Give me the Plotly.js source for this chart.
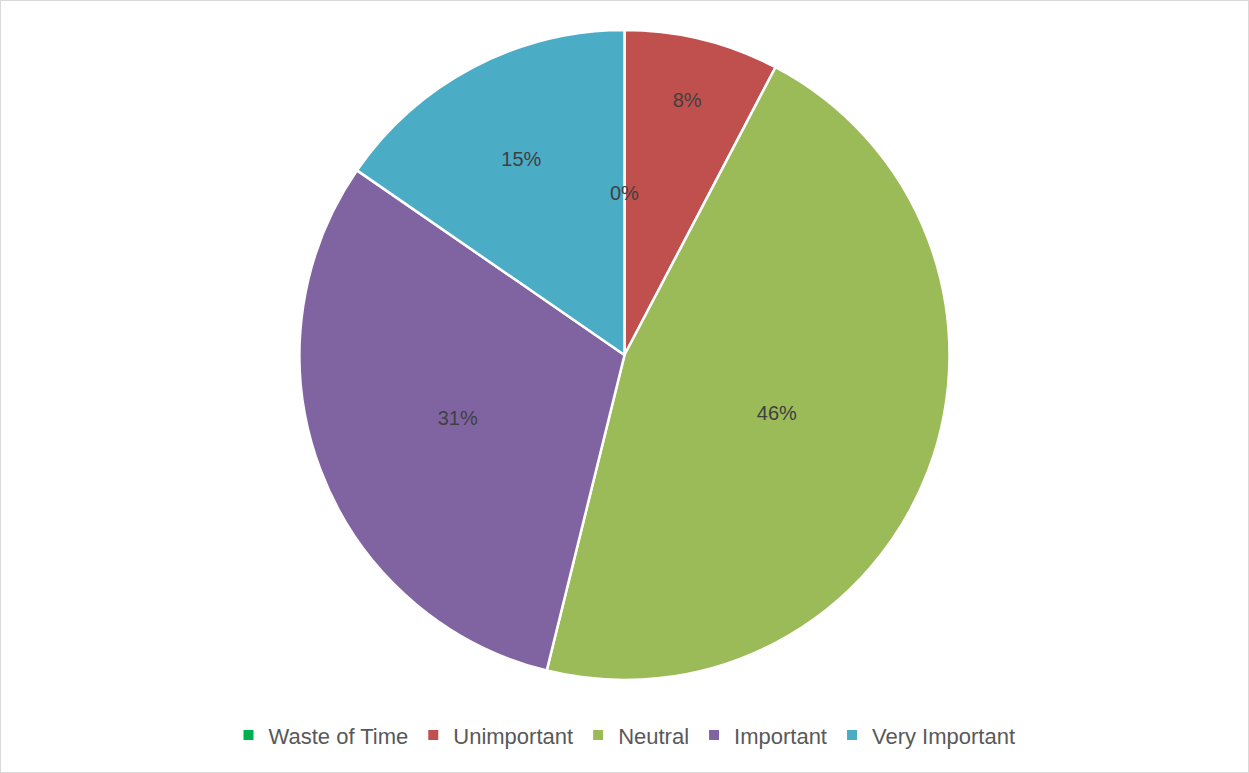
<!DOCTYPE html>
<html>
<head>
<meta charset="utf-8">
<script src="https://cdn.plot.ly/plotly-3.0.1.min.js"></script>
<style>
html,body{margin:0;padding:0;background:#fff;}
#chart{width:1249px;height:773px;box-sizing:border-box;border:1px solid #d9d9d9;}
</style>
</head>
<body>
<div id="chart"></div>
<script>
const categories = ["Waste of Time", "Unimportant", "Neutral", "Important", "Very Important"];
const counts = [0, 1, 6, 4, 2];
const colors = ["#00B050", "#C0504D", "#9BBB59", "#8064A2", "#4BACC6"];

const FONT = "Liberation Sans, Arial, sans-serif";
const total = counts.reduce((a, b) => a + b, 0);

const trace = {
  type: "pie",
  labels: categories,
  values: counts,
  sort: false,
  direction: "clockwise",
  rotation: 0,
  marker: {colors: colors, line: {color: "#ffffff", width: 2.5}},
  texttemplate: "%{percent:.0%}",
  textposition: "inside",
  insidetextorientation: "horizontal",
  textfont: {family: FONT, size: 20, color: "#404040"},
  hoverinfo: "label+percent",
  showlegend: true
};

// Plotly does not draw labels for zero-value slices; add them at half radius
// along the slice start direction (computed from the data).
const annotations = [];
let cum = 0;
counts.forEach((v, i) => {
  if (v === 0) {
    const ang = cum / total * 2 * Math.PI; // clockwise from 12 o'clock
    annotations.push({
      xref: "paper", yref: "paper",
      x: 0.5 + 0.5 * Math.sin(ang) * (650 / 1247) * 0.5,
      y: 0.5 + 0.5 * Math.cos(ang) * 0.5,
      xanchor: "center", yanchor: "middle",
      text: "0%", showarrow: false,
      font: {family: FONT, size: 20, color: "#404040"}
    });
  }
  cum += v;
});

const layout = {
  width: 1247,
  height: 771,
  margin: {l: 0, r: 0, t: 29, b: 92},
  paper_bgcolor: "#ffffff",
  showlegend: true,
  annotations: annotations,
  legend: {
    orientation: "h",
    x: 0.5, xanchor: "center",
    y: -0.085, yanchor: "middle",
    font: {family: FONT, size: 22, color: "#595959"},
    itemsizing: "constant"
  }
};

Plotly.newPlot("chart", [trace], layout, {displayModeBar: false, staticPlot: true});
</script>
</body>
</html>
